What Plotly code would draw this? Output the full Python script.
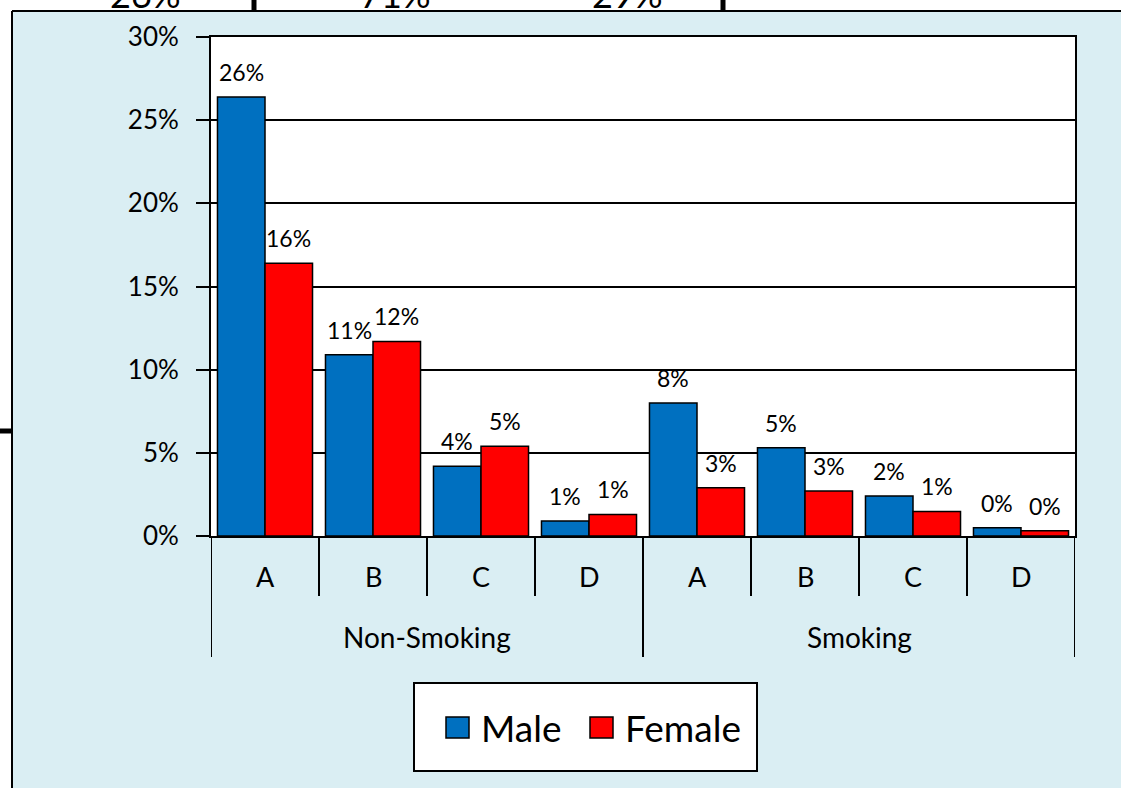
import plotly.graph_objects as go

# ---- data ----
groups = ["Non-Smoking", "Smoking"]
subcats = ["A", "B", "C", "D"]
male = [0.264, 0.109, 0.042, 0.009, 0.080, 0.053, 0.024, 0.0049]
female = [0.164, 0.117, 0.054, 0.013, 0.029, 0.027, 0.0148, 0.0032]
top_texts = ["26%", "71%", "29%"]
series_names = ["Male", "Female"]
series_colors = ["#0070C0", "#FF0000"]
yticks = [0, 0.05, 0.10, 0.15, 0.20, 0.25, 0.30]

FW, FH = 1121, 788
L, R, T, B = 211, 1075, 37, 536
FONT = "Lato"
BG = "#DAEEF3"


def px(X):
    return (X - L) / (R - L)


def py(Y):
    return (B - Y) / (B - T)


n = len(male)
xs = list(range(n))
bargap = 0.12
bw = (1 - bargap) / 2

fig = go.Figure()
for name, vals, col in zip(series_names, [male, female], series_colors):
    fig.add_trace(go.Bar(
        x=xs, y=vals, name=name,
        marker=dict(color=col, line=dict(color="#000000", width=1.5)),
        showlegend=False,
    ))

annotations = []
shapes = []

# data labels
for k, vals in enumerate([male, female]):
    off = (-0.5 + k) * bw
    for i, v in enumerate(vals):
        annotations.append(dict(
            x=i + off, y=v, xref="x", yref="y", text=f"{v:.0%}",
            showarrow=False, yanchor="middle", yshift=25,
            font=dict(family=FONT, size=23, color="#000000"),
        ))

# category labels (two levels)
for i in range(n):
    annotations.append(dict(
        x=i, y=py(576), xref="x", yref="paper", text=subcats[i % len(subcats)],
        showarrow=False, yanchor="middle",
        font=dict(family=FONT, size=27, color="#000000"),
    ))
for g, name in enumerate(groups):
    center = g * len(subcats) + (len(subcats) - 1) / 2
    annotations.append(dict(
        x=center, y=py(637), xref="x", yref="paper", text=name,
        showarrow=False, yanchor="middle",
        font=dict(family=FONT, size=28, color="#000000"),
    ))

# separators
for i in range(n + 1):
    bottom = 657 if i % len(subcats) == 0 else 596
    shapes.append(dict(type="line", xref="x", yref="paper",
                       x0=i - 0.5, x1=i - 0.5, y0=py(B), y1=py(bottom),
                       line=dict(color="#000000", width=2)))

# outside-the-chart white area and chart border
shapes.append(dict(type="rect", xref="paper", yref="paper",
                   x0=px(-20), x1=px(FW + 20), y0=py(11), y1=py(-20),
                   fillcolor="#FFFFFF", line=dict(width=0), layer="above"))
shapes.append(dict(type="rect", xref="paper", yref="paper",
                   x0=px(-20), x1=px(12), y0=py(FH + 20), y1=py(-20),
                   fillcolor="#FFFFFF", line=dict(width=0), layer="above"))
shapes.append(dict(type="line", xref="paper", yref="paper",
                   x0=px(12), x1=px(FW + 10), y0=py(11), y1=py(11),
                   line=dict(color="#000000", width=2), layer="above"))
shapes.append(dict(type="line", xref="paper", yref="paper",
                   x0=px(12), x1=px(12), y0=py(11), y1=py(FH + 10),
                   line=dict(color="#000000", width=2), layer="above"))

# cropped table remnants at top / left
for X in [254, 723]:
    shapes.append(dict(type="line", xref="paper", yref="paper",
                       x0=px(X), x1=px(X), y0=py(-5), y1=py(10),
                       line=dict(color="#000000", width=5), layer="above"))
shapes.append(dict(type="line", xref="paper", yref="paper",
                   x0=px(-5), x1=px(12), y0=py(431), y1=py(431),
                   line=dict(color="#000000", width=5), layer="above"))
for X, txt in zip([145, 395, 627], top_texts):
    annotations.append(dict(
        x=px(X), y=py(18), xref="paper", yref="paper", text=txt,
        showarrow=False, yanchor="bottom", xanchor="center",
        font=dict(family=FONT, size=36, color="#000000"),
    ))

# legend (manual)
shapes.append(dict(type="rect", xref="paper", yref="paper",
                   x0=px(414), x1=px(757), y0=py(771), y1=py(683),
                   fillcolor="#FFFFFF", line=dict(color="#000000", width=2)))
leg_sq = [446, 590]
leg_tx = [479, 623]
for name, col, sx, tx in zip(series_names, series_colors, leg_sq, leg_tx):
    shapes.append(dict(type="rect", xref="paper", yref="paper",
                       x0=px(sx), x1=px(sx + 23), y0=py(738), y1=py(717),
                       fillcolor=col, line=dict(color="#000000", width=1.5)))
    annotations.append(dict(
        x=px(tx), y=py(727), xref="paper", yref="paper", text=name,
        showarrow=False, xanchor="left", yanchor="middle",
        font=dict(family=FONT, size=37, color="#000000"),
    ))

fig.update_layout(
    width=FW, height=FH,
    margin=dict(l=L, r=FW - R, t=T, b=FH - B, pad=0),
    paper_bgcolor=BG, plot_bgcolor="#FFFFFF",
    barmode="group", bargap=bargap, bargroupgap=0,
    annotations=annotations, shapes=shapes,
    xaxis=dict(range=[-0.5, n - 0.5], showticklabels=False, ticks="",
               showgrid=False, zeroline=False, showline=True,
               linecolor="#000000", linewidth=2, mirror=True, fixedrange=True),
    yaxis=dict(range=[0, 0.30], tickvals=yticks, tickformat=".0%",
               showgrid=True, gridcolor="#000000", gridwidth=1.5,
               zeroline=False, showline=True, linecolor="#000000",
               linewidth=2, mirror=True, ticks="outside", ticklen=13,
               tickcolor="#000000", tickwidth=1.5, ticklabelstandoff=12,
               tickfont=dict(family=FONT, size=26, color="#000000"),
               fixedrange=True),
    font=dict(family=FONT, color="#000000"),
)

fig.write_html("out.html")
